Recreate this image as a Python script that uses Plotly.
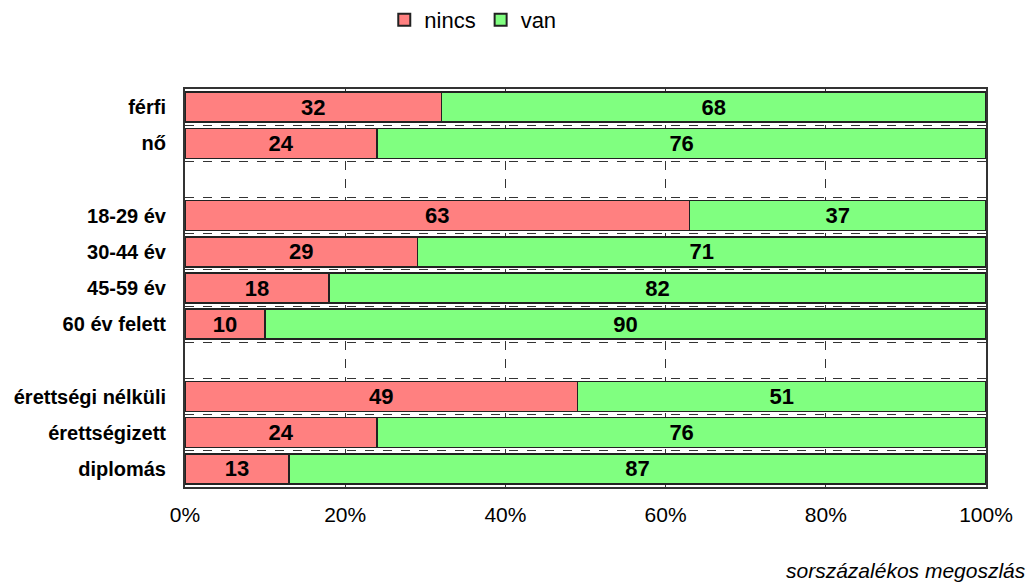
import plotly.graph_objects as go

categories = ["férfi", "nő", " ", "18-29 év", "30-44 év", "45-59 év", "60 év felett", "  ",
              "érettségi nélküli", "érettségizett", "diplomás"]
nincs = [32, 24, None, 63, 29, 18, 10, None, 49, 24, 13]
van = [68, 76, None, 37, 71, 82, 90, None, 51, 76, 87]
tick_vals = [0, 20, 40, 60, 80, 100]
tick_text = ["0%", "20%", "40%", "60%", "80%", "100%"]

label_font = dict(family="Liberation Sans Narrow, Arial Narrow, Liberation Sans", size=22, color="black")

fig = go.Figure()
for name, vals, col in [("nincs", nincs, "#FF8080"), ("van", van, "#80FF80")]:
    fig.add_trace(go.Bar(
        y=categories, x=vals, name=name, orientation="h",
        marker=dict(color=col, line=dict(color="#222222", width=1.5)),
        text=[f"<b>{v}</b>" if v is not None else "" for v in vals],
        textposition="inside", insidetextanchor="middle", textfont=label_font,
        textangle=0, constraintext="none", cliponaxis=False,
        width=0.83,
    ))

fig.update_layout(
    barmode="stack",
    width=1030, height=586,
    margin=dict(l=185, r=44, t=89, b=99),
    plot_bgcolor="white", paper_bgcolor="white",
    font=dict(family="Liberation Sans, Arial", color="black"),
    uniformtext=dict(mode=False),
    legend=dict(orientation="h", x=0.459, xanchor="center", xref="container",
                y=0.966, yanchor="middle", yref="container",
                font=dict(size=22), itemwidth=30, itemsizing="constant",
                traceorder="normal"),
    xaxis=dict(range=[0, 100], tickvals=tick_vals, ticktext=tick_text,
               showgrid=True, gridcolor="#333333", griddash="dash", gridwidth=1,
               showline=True, linecolor="#333333", linewidth=2, mirror=True,
               ticks="", ticklabelstandoff=8, tickfont=dict(size=21), zeroline=False),
    yaxis=dict(autorange="reversed", tickson="boundaries", showgrid=True,
               gridcolor="#333333", griddash="dash", gridwidth=1,
               showline=True, linecolor="#333333", linewidth=2, mirror=True,
               ticks="", ticklabelstandoff=13,
               tickfont=dict(size=20, family="Liberation Sans, Arial"),
               tickmode="array", tickvals=categories,
               ticktext=[f"<b>{c}</b>" if c.strip() else "" for c in categories]),
    annotations=[dict(text="<i>sorszázalékos megoszlás</i>", xref="paper", yref="paper",
                      x=1.053, y=-0.21, xanchor="right", yanchor="middle",
                      showarrow=False, font=dict(size=21))],
)

fig.write_html("out.html", post_script="document.body.style.margin='0';",
               config={"displayModeBar": False})
